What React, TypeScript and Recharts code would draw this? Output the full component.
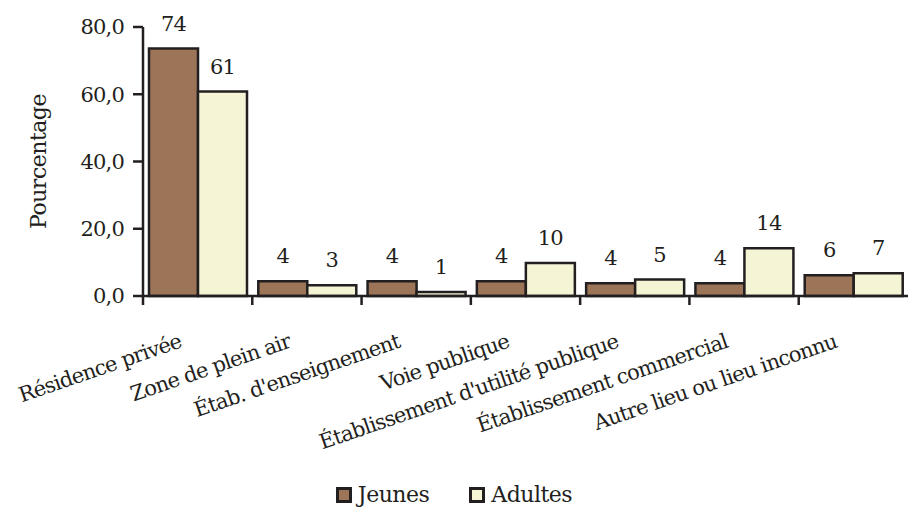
import { BarChart, Bar, XAxis, YAxis, Legend, LabelList } from 'recharts';

const categories = [
  'Résidence privée',
  'Zone de plein air',
  'Étab. d\'enseignement',
  'Voie publique',
  'Établissement d\'utilité publique',
  'Établissement commercial',
  'Autre lieu ou lieu inconnu',
];
const jeunes = [73.6, 4.4, 4.4, 4.4, 3.8, 3.8, 6.2];
const adultes = [60.8, 3.2, 1.2, 9.8, 4.9, 14.2, 6.8];
const yTicks = [0, 20, 40, 60, 80];

const data = categories.map((name, i) => ({ name, jeunes: jeunes[i], adultes: adultes[i] }));

const INK = '#231f20';
const FONT = 'DejaVu Serif';
const BAND = (908 - 143) / categories.length;

const textStyle = { fill: INK, fontFamily: FONT, fontSize: 21, letterSpacing: -0.8 };

const CategoryTick = (props: any) => {
  const { x, y, payload } = props;
  return (
    <g transform={`translate(${x},${y})`}>
      <line x1={-BAND / 2} x2={-BAND / 2} y1={0} y2={9} stroke={INK} strokeWidth={2.5} />
      <text transform="translate(-15,51) rotate(-19)" textAnchor="end" style={textStyle}>
        {payload.value}
      </text>
    </g>
  );
};

const LegendBox = () => (
  <div
    style={{
      display: 'flex',
      justifyContent: 'center',
      gap: 40,
      marginTop: 14,
      fontFamily: FONT,
      fontSize: 22,
      letterSpacing: -0.5,
      color: INK,
    }}
  >
    {[
      { label: 'Jeunes', color: '#9c7558' },
      { label: 'Adultes', color: '#f5f5d6' },
    ].map((it) => (
      <span key={it.label} style={{ display: 'flex', alignItems: 'center' }}>
        <span style={{ width: 10, height: 10, background: it.color, border: `3px solid ${INK}`, marginRight: 6 }} />
        {it.label}
      </span>
    ))}
  </div>
);

export default function App() {
  return (
    <div style={{ position: 'absolute', left: 0, top: 0, background: '#fff' }}>
      <BarChart
        width={908}
        height={508}
        data={data}
        margin={{ top: 27, right: 0, left: 0, bottom: 0 }}
        barCategoryGap={6}
        barGap={0}
      >
        <YAxis
          width={143}
          domain={[0, 80]}
          ticks={yTicks}
          tickFormatter={(v: number) => v.toFixed(1).replace('.', ',')}
          axisLine={{ stroke: INK, strokeWidth: 2.5 }}
          tickLine={{ stroke: INK, strokeWidth: 2.5 }}
          tickSize={10}
          tickMargin={9}
          tick={textStyle}
          label={{
            value: 'Pourcentage',
            angle: -90,
            position: 'insideLeft',
            offset: 38,
            style: { ...textStyle, fontSize: 22, letterSpacing: -0.5, textAnchor: 'middle' },
          }}
        />
        <XAxis
          dataKey="name"
          interval={0}
          height={172}
          tickLine={false}
          tickSize={0}
          tickMargin={0}
          axisLine={{ stroke: INK, strokeWidth: 2.5 }}
          tick={<CategoryTick />}
        />
        <Legend verticalAlign="bottom" height={40} content={<LegendBox />} />
        <Bar dataKey="jeunes" name="Jeunes" fill="#9c7558" stroke={INK} strokeWidth={2.5} isAnimationActive={false}>
          <LabelList
            dataKey="jeunes"
            position="top"
            offset={18}
            formatter={(v: number) => Math.round(v)}
            style={textStyle}
          />
        </Bar>
        <Bar dataKey="adultes" name="Adultes" fill="#f5f5d6" stroke={INK} strokeWidth={2.5} isAnimationActive={false}>
          <LabelList
            dataKey="adultes"
            position="top"
            offset={18}
            formatter={(v: number) => Math.round(v)}
            style={textStyle}
          />
        </Bar>
      </BarChart>
    </div>
  );
}
